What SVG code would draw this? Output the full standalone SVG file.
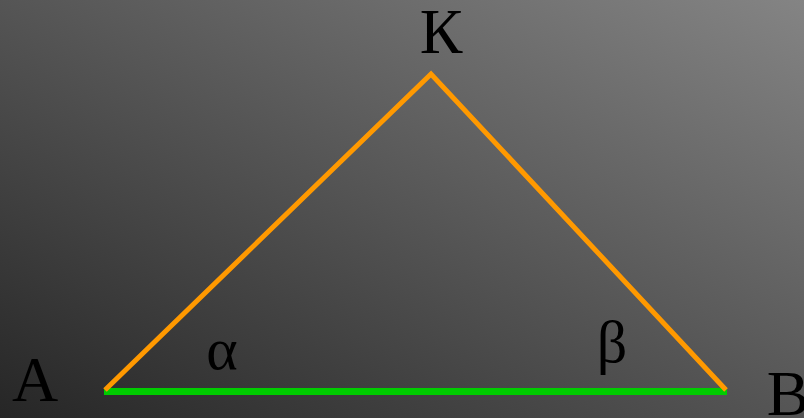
<svg xmlns="http://www.w3.org/2000/svg" width="804" height="418" viewBox="0 0 804 418">
<style>
.lbl{font-family:"Liberation Serif","DejaVu Serif",serif;fill:#000;text-anchor:middle}
.side{fill:none;stroke:#FF9900;stroke-width:5}
.base{fill:none;stroke:#00CC00;stroke-width:7}
</style>
<defs>
<linearGradient id="bg" x1="0" y1="1" x2="1" y2="0">
<stop offset="0" stop-color="#262626"/>
<stop offset="1" stop-color="#848484"/>
</linearGradient>
</defs>
<rect width="804" height="418" fill="url(#bg)"/>
<g id="connectors">
<line class="base" x1="104" y1="391.5" x2="727" y2="391.5"/>
<polyline class="side" points="105,390 431,74 726,390"/>
</g>
<g id="K"><text class="lbl" x="441" y="53" font-size="64">К</text></g>
<g id="A"><text class="lbl" x="35" y="401" font-size="64">A</text></g>
<g id="B"><text class="lbl" x="788" y="415" font-size="64">B</text></g>
<g id="alpha"><text class="lbl" x="222" y="369" font-size="60">α</text></g>
<g id="beta"><text class="lbl" x="612" y="362" font-size="60">β</text></g>
</svg>
